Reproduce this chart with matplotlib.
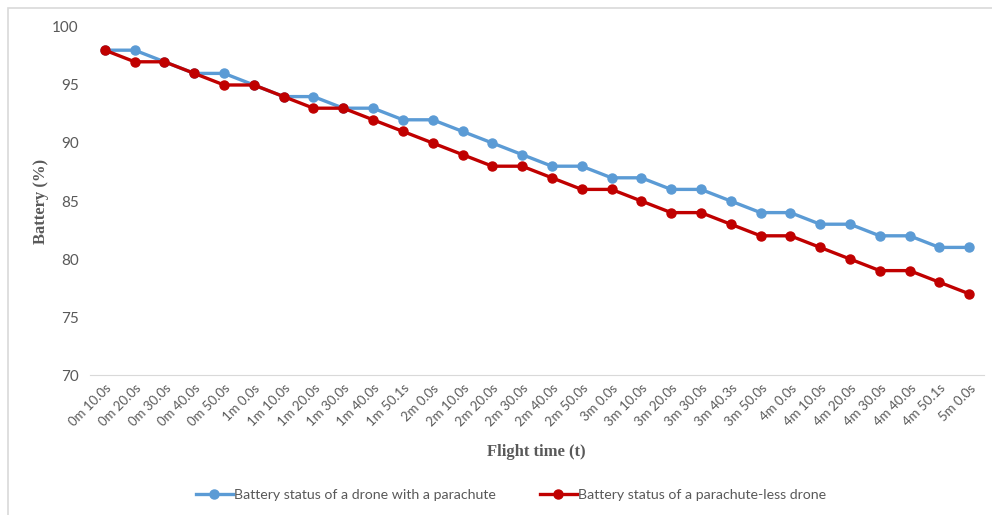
import matplotlib.pyplot as plt
from matplotlib.lines import Line2D

# flight time labels (one reading every ~10 s)
time_labels = [
    "0m 10.0s", "0m 20.0s", "0m 30.0s", "0m 40.0s", "0m 50.0s",
    "1m 0.0s", "1m 10.0s", "1m 20.0s", "1m 30.0s", "1m 40.0s",
    "1m 50.1s", "2m 0.0s", "2m 10.0s", "2m 20.0s", "2m 30.0s",
    "2m 40.0s", "2m 50.0s", "3m 0.0s", "3m 10.0s", "3m 20.0s",
    "3m 30.0s", "3m 40.3s", "3m 50.0s", "4m 0.0s", "4m 10.0s",
    "4m 20.0s", "4m 30.0s", "4m 40.0s", "4m 50.1s", "5m 0.0s",
]

battery_parachute = [98, 98, 97, 96, 96, 95, 94, 94, 93, 93,
                     92, 92, 91, 90, 89, 88, 88, 87, 87, 86,
                     86, 85, 84, 84, 83, 83, 82, 82, 81, 81]
battery_no_parachute = [98, 97, 97, 96, 95, 95, 94, 93, 93, 92,
                        91, 90, 89, 88, 88, 87, 86, 86, 85, 84,
                        84, 83, 82, 82, 81, 80, 79, 79, 78, 77]

label_parachute = "Battery status of a drone with a parachute"
label_no_parachute = "Battery status of a parachute-less drone"

BLUE = "#5B9BD5"
RED = "#C00000"
GREY = "#595959"

fig = plt.figure(figsize=(9.92, 5.15), dpi=100, facecolor="white")
ax = fig.add_axes([0.0907, 0.2718, 0.9013, 0.6758])

x = list(range(len(time_labels)))
ax.plot(x, battery_parachute, color=BLUE, lw=2.4, marker="o", ms=6.5,
        label=label_parachute, zorder=3)
ax.plot(x, battery_no_parachute, color=RED, lw=2.4, marker="o", ms=6.5,
        label=label_no_parachute, zorder=4)

ax.set_xlim(-0.5, len(x) - 0.5)
ax.set_ylim(70, 100)
ax.set_yticks(range(70, 101, 5))
ax.set_xticks(x)
ax.set_xticklabels(time_labels, rotation=45, ha="right",
                   rotation_mode="anchor", fontsize=9.5, color=GREY,
                   family="Lato")
for lab in ax.get_yticklabels():
    lab.set_fontsize(11)
    lab.set_color(GREY)
    lab.set_family("Lato")

for side in ["top", "right", "left"]:
    ax.spines[side].set_visible(False)
ax.spines["bottom"].set_color("#D9D9D9")
ax.tick_params(axis="both", length=0)
ax.tick_params(axis="y", pad=8)
ax.tick_params(axis="x", pad=5)

ax.set_ylabel("Battery (%)", family="Liberation Serif", fontweight="bold",
              fontsize=12, color=GREY, labelpad=2)
fig.text(0.541, 0.122, "Flight time (t)", family="Liberation Serif",
         fontweight="bold", fontsize=12, color=GREY, ha="center", va="center")

handles = [
    Line2D([], [], color=BLUE, lw=2.4, marker="o", ms=6.5),
    Line2D([], [], color=RED, lw=2.4, marker="o", ms=6.5),
]
fig.legend(handles, [label_parachute, label_no_parachute],
           loc="center", bbox_to_anchor=(0.515, 0.038), ncol=2,
           frameon=False, handlelength=2.6, handletextpad=0.1,
           columnspacing=3.1,
           prop={"family": "Lato", "size": 10.2}, labelcolor=GREY)

# thin frame along the top and left of the chart
fig.patches.append(plt.Rectangle((0.008, -0.1), 1.1, 1.0854,
                                 transform=fig.transFigure, fill=False,
                                 edgecolor="#D9D9D9", lw=1.2))

fig.savefig("out.png", dpi=100, facecolor="white")
